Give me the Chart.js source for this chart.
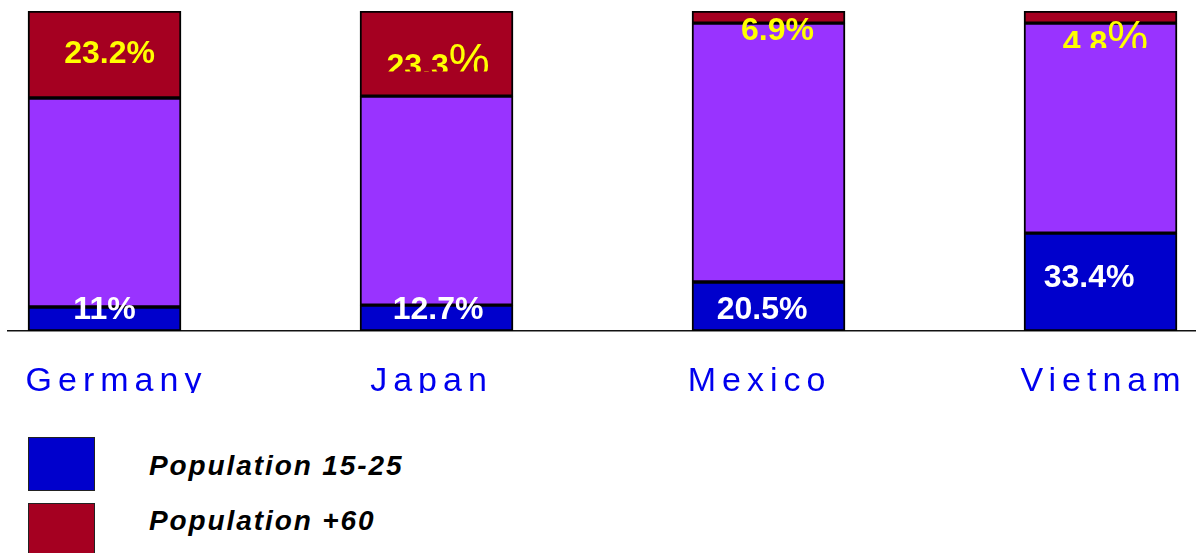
<!DOCTYPE html>
<html lang="en">
<head>
    <meta charset="UTF-8">
    <title>Population 15-25 and +60</title>
    <script src="https://cdn.jsdelivr.net/npm/chart.js"></script>
    <style>
        * {
            margin: 0;
            padding: 0;
            box-sizing: border-box;
        }

        body {
            width: 1196px;
            height: 553px;
            background: #fff;
            overflow: hidden;
            position: relative;
            font-family: 'Liberation Sans', Arial, sans-serif;
        }

        .chart-box {
            position: absolute;
            left: 0;
            top: 0;
            width: 1196px;
            height: 393px;
        }

        /* Legend */
        .swatch {
            position: absolute;
            left: 28px;
            width: 67px;
            height: 54px;
            border: 1.5px solid #222;
        }

        .legend-text {
            position: absolute;
            left: 149px;
            height: 30px;
            line-height: 30px;
            font-size: 28px;
            font-weight: bold;
            font-style: italic;
            letter-spacing: 1.9px;
            color: #000;
            white-space: nowrap;
        }
    </style>
</head>
<body>
    <div class="chart-box">
        <canvas id="popChart"></canvas>
    </div>
    <div id="legend"></div>

    <script>
        // data (share of each bar, %)
        const countries = ['Germany', 'Japan', 'Mexico', 'Vietnam'];
        const pop15to25 = [7.5, 8.1, 15.3, 30.6];
        const popOther = [65.3, 65.3, 80.9, 65.6];
        const pop60plus = [27.2, 26.6, 3.8, 3.8];
        const labels15to25 = ['11%', '12.7%', '20.5%', '33.4%'];
        const labels60plus = ['23.2%', '23.3%', '6.9%', '4.8%'];

        const FONT = '"Liberation Sans", Arial, sans-serif';

        // label nudges (px) from the segment centre
        const bottomStyle = [
            { dx: 0, dy: -9 }, { dx: 1.5, dy: -8 }, { dx: -6.5, dy: 3.5 }, { dx: -11.5, dy: -4 }
        ];
        const topStyle = [
            { dx: 5, dy: -0.5 }, { dx: 1.5, dy: 22.5, split: true, cut: 4.5 },
            { dx: 9, dy: 14 }, { dx: 5, dy: 36, split: true, cut: 5 }
        ];
        // country names sit a little off the bar centres (px)
        const nameShift = [12, -5, -9, 3];
        const SLOT_PX = 332;

        const barLabels = {
            id: 'barLabels',
            afterDatasetsDraw(chart) {
                const ctx = chart.ctx;
                const jobs = [[0, labels15to25, '#ffffff', bottomStyle], [2, labels60plus, '#ffff00', topStyle]];
                jobs.forEach(([di, texts, color, styles]) => {
                    chart.getDatasetMeta(di).data.forEach((bar, i) => {
                        const st = styles[i];
                        const cx = bar.x + st.dx;
                        const cy = (bar.y + bar.base) / 2 + st.dy;
                        ctx.save();
                        ctx.letterSpacing = '0px';
                        ctx.fillStyle = color;
                        if (st.split) {
                            // number and an oversized % sign, cut just above the baseline
                            const num = texts[i].replace('%', '');
                            ctx.font = 'bold 32px ' + FONT;
                            const w1 = ctx.measureText(num).width;
                            ctx.font = '46px ' + FONT;
                            const w2 = ctx.measureText('%').width;
                            const x0 = cx - (w1 + w2) / 2;
                            ctx.beginPath();
                            ctx.rect(x0 - 10, 0, w1 + w2 + 20, cy - st.cut);
                            ctx.clip();
                            ctx.textAlign = 'left';
                            ctx.textBaseline = 'alphabetic';
                            ctx.font = 'bold 32px ' + FONT;
                            ctx.fillText(num, x0, cy);
                            ctx.font = '46px ' + FONT;
                            ctx.fillText('%', x0 + w1, cy);
                        } else {
                            ctx.font = 'bold 32px ' + FONT;
                            ctx.textAlign = 'center';
                            ctx.textBaseline = 'middle';
                            ctx.fillText(texts[i], cx, cy);
                        }
                        ctx.restore();
                    });
                });
            }
        };

        // wide letter spacing for the country names only
        const spacedTicks = {
            id: 'spacedTicks',
            beforeDraw(chart) { chart.ctx.letterSpacing = '6px'; },
            beforeDatasetsDraw(chart) { chart.ctx.letterSpacing = '0px'; }
        };

        const ctx = document.getElementById('popChart').getContext('2d');
        const chart = new Chart(ctx, {
            type: 'bar',
            data: {
                labels: countries.map((c, i) => i),
                datasets: [
                    {
                        label: 'Population 15-25',
                        data: pop15to25,
                        backgroundColor: '#0000cc'
                    },
                    {
                        label: 'Population 26-59',
                        data: popOther,
                        backgroundColor: '#9933ff'
                    },
                    {
                        label: 'Population +60',
                        data: pop60plus,
                        backgroundColor: '#a50021'
                    }
                ]
            },
            options: {
                responsive: true,
                maintainAspectRatio: false,
                animation: false,
                layout: { padding: { left: 8, top: 11, right: 0, bottom: 0 } },
                datasets: {
                    bar: {
                        barThickness: 153,
                        borderColor: '#000',
                        borderWidth: 2,
                        borderSkipped: false
                    }
                },
                scales: {
                    x: {
                        type: 'linear',
                        stacked: true,
                        offset: false,
                        min: -0.2907,
                        max: 3.2876,
                        grid: { display: false, drawTicks: false },
                        border: { display: true, color: '#111', width: 1.5 },
                        afterFit(scale) { scale.height = 62; },
                        afterBuildTicks(scale) {
                            scale.ticks = countries.map((c, i) => ({ value: i + nameShift[i] / SLOT_PX }));
                        },
                        ticks: {
                            autoSkip: false,
                            maxRotation: 0,
                            padding: 30,
                            color: '#0000ee',
                            font: { family: FONT, size: 34 },
                            callback: (v) => countries[Math.round(v)] ?? ''
                        }
                    },
                    y: {
                        display: false,
                        stacked: true,
                        min: 0,
                        max: 100
                    }
                },
                plugins: {
                    legend: { display: false },
                    tooltip: { enabled: false }
                }
            },
            plugins: [spacedTicks, barLabels]
        });

        // legend: only the two named age groups
        const legend = document.getElementById('legend');
        const swatchTops = [437, 503];
        const textTops = [451, 506];
        [0, 2].forEach((di, k) => {
            const ds = chart.data.datasets[di];
            const sw = document.createElement('div');
            sw.className = 'swatch';
            sw.style.top = swatchTops[k] + 'px';
            sw.style.background = ds.backgroundColor;
            legend.appendChild(sw);
            const tx = document.createElement('div');
            tx.className = 'legend-text';
            tx.style.top = textTops[k] + 'px';
            tx.textContent = ds.label;
            legend.appendChild(tx);
        });
    </script>
</body>
</html>
